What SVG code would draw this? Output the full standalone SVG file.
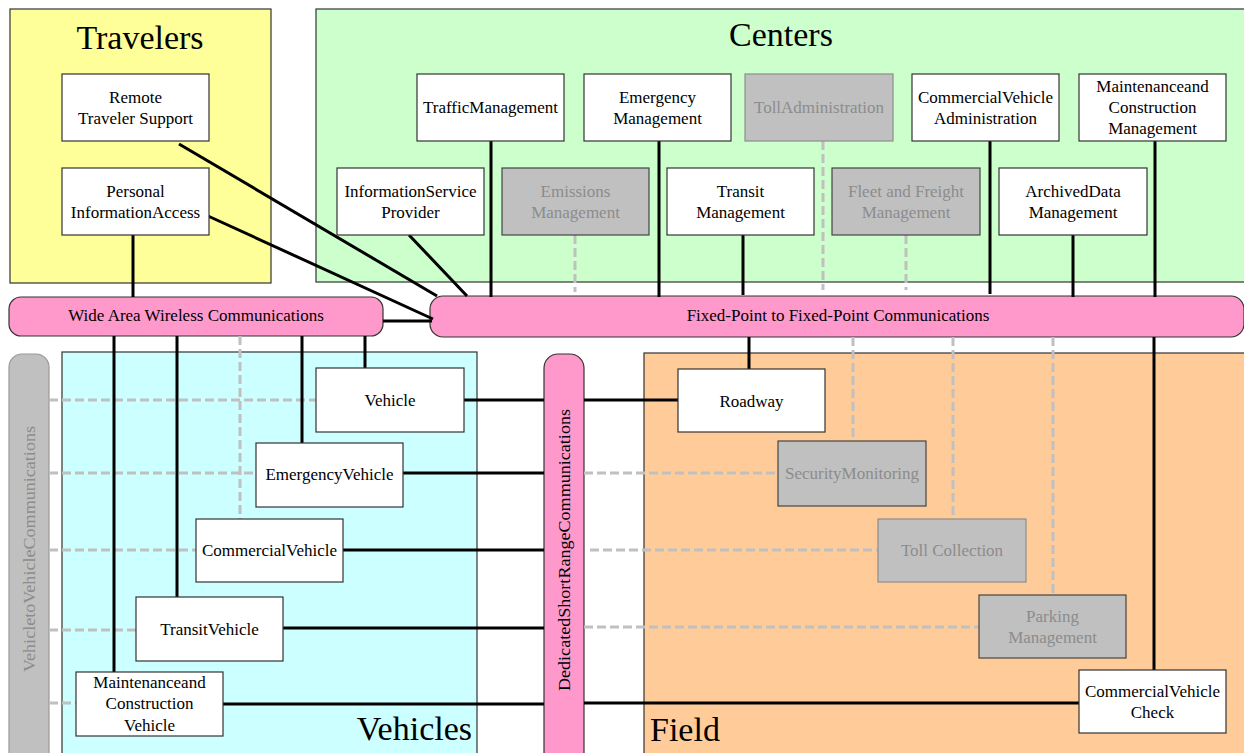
<svg xmlns="http://www.w3.org/2000/svg" width="1244" height="753" viewBox="0 0 1244 753">
<style>
text{font-family:"Liberation Serif","Times New Roman",serif;font-size:17px;fill:#000;text-anchor:middle}
.title{font-size:34px}
.gtx{fill:#8c8c8c}
.node{fill:#fff;stroke:#333;stroke-width:1.2}
.gnode{fill:#c0c0c0;stroke:#444;stroke-width:1.2}
.gnode2{fill:#c0c0c0;stroke:#8c8c8c;stroke-width:1.2}
.bar{fill:#ff99cc;stroke:#333;stroke-width:1.2}
.grp{stroke:#333;stroke-width:1.2}
.c{stroke:#000;stroke-width:3;fill:none}
.d{stroke:#c0c0c0;stroke-width:3;fill:none;stroke-dasharray:9,4}
</style>
<rect width="1244" height="753" fill="#fff"/>
<g id="groups">
<g id="travelers-area"><rect class="grp" x="10" y="9" width="261" height="274" fill="#ffff99"/><text class="title" x="140" y="49">Travelers</text></g>
<g id="centers-area"><rect class="grp" x="316" y="9" width="940" height="273" fill="#ccffcc"/><text class="title" x="781" y="46">Centers</text></g>
<g id="vehicles-area"><rect class="grp" x="62" y="352" width="415" height="410" fill="#ccffff"/><text class="title" x="472" y="740" style="text-anchor:end">Vehicles</text></g>
<g id="field-area"><rect class="grp" x="644" y="353" width="612" height="410" fill="#ffcc99"/><text class="title" x="650" y="741" style="text-anchor:start">Field</text></g>
</g>
<g id="bars">
<g id="wide-area-wireless"><rect class="bar" x="9" y="297" width="374" height="39" rx="12"/><text x="196" y="321">Wide Area Wireless Communications</text></g>
<g id="fixed-point"><rect class="bar" x="430" y="296" width="814" height="41" rx="13"/><text x="838" y="321">Fixed-Point to Fixed-Point Communications</text></g>
<g id="v2v"><rect x="9" y="354" width="40" height="420" rx="13" fill="#c0c0c0" stroke="#999" stroke-width="1.2"/><text class="gtx" transform="translate(35,549) rotate(-90)" textLength="246" lengthAdjust="spacingAndGlyphs">VehicletoVehicleCommunications</text></g>
<g id="dsrc"><rect class="bar" x="544" y="354" width="40" height="420" rx="14"/><text transform="translate(570,550) rotate(-90)" textLength="282" lengthAdjust="spacingAndGlyphs">DedicatedShortRangeCommunications</text></g>
</g>
<g id="connectors">
<line class="d" x1="575" y1="235" x2="575" y2="292"/>
<line class="d" x1="823" y1="141" x2="823" y2="290"/>
<line class="d" x1="906" y1="235" x2="906" y2="290"/>
<line class="d" x1="240" y1="336" x2="240" y2="519"/>
<line class="d" x1="853" y1="337" x2="853" y2="441"/>
<line class="d" x1="953" y1="337" x2="953" y2="519"/>
<line class="d" x1="1053" y1="337" x2="1053" y2="595"/>
<line class="d" x1="49" y1="400" x2="316" y2="400"/>
<line class="d" x1="49" y1="473" x2="256" y2="473"/>
<line class="d" x1="49" y1="550" x2="196" y2="550"/>
<line class="d" x1="49" y1="630" x2="136" y2="630"/>
<line class="d" x1="49" y1="703" x2="76" y2="703"/>
<line class="d" x1="584" y1="473" x2="778" y2="473"/>
<line class="d" x1="590" y1="550" x2="878" y2="550"/>
<line class="d" x1="584" y1="627" x2="979" y2="627"/>
<line class="c" x1="179" y1="144" x2="437" y2="296"/>
<line class="c" x1="208" y1="216" x2="433" y2="319"/>
<line class="c" x1="409" y1="235" x2="467" y2="296"/>
<line class="c" x1="133" y1="235" x2="133" y2="297"/>
<line class="c" x1="383" y1="321" x2="432" y2="321"/>
<line class="c" x1="491" y1="141" x2="491" y2="297"/>
<line class="c" x1="659" y1="141" x2="659" y2="297"/>
<line class="c" x1="743" y1="235" x2="743" y2="295"/>
<line class="c" x1="990" y1="141" x2="990" y2="294"/>
<line class="c" x1="1073" y1="235" x2="1073" y2="297"/>
<line class="c" x1="1155" y1="141" x2="1155" y2="297"/>
<line class="c" x1="114" y1="336" x2="114" y2="672"/>
<line class="c" x1="177" y1="336" x2="177" y2="597"/>
<line class="c" x1="302" y1="336" x2="302" y2="443"/>
<line class="c" x1="365" y1="336" x2="365" y2="368"/>
<line class="c" x1="749" y1="337" x2="749" y2="369"/>
<line class="c" x1="1154" y1="337" x2="1154" y2="670"/>
<line class="c" x1="464" y1="400" x2="544" y2="400"/>
<line class="c" x1="403" y1="473" x2="544" y2="473"/>
<line class="c" x1="343" y1="550" x2="544" y2="550"/>
<line class="c" x1="283" y1="628" x2="544" y2="628"/>
<line class="c" x1="223" y1="704" x2="544" y2="704"/>
<line class="c" x1="584" y1="400" x2="678" y2="400"/>
<line class="c" x1="584" y1="703" x2="1079" y2="703"/>
</g>
<g id="remote-traveler-support"><rect class="node" x="62" y="74" width="147" height="67"/><text x="135.5" y="103">Remote</text><text x="135.5" y="124">Traveler Support</text></g>
<g id="personal-information-access"><rect class="node" x="62" y="168" width="147" height="67"/><text x="135.5" y="197">Personal</text><text x="135.5" y="218">InformationAccess</text></g>
<g id="traffic-management"><rect class="node" x="417" y="74" width="147" height="67"/><text x="490.5" y="113">TrafficManagement</text></g>
<g id="emergency-management"><rect class="node" x="584" y="74" width="147" height="67"/><text x="657.5" y="103">Emergency</text><text x="657.5" y="124">Management</text></g>
<g id="toll-administration"><rect class="gnode2" x="745" y="74" width="148" height="67"/><text class="gtx" x="819" y="113">TollAdministration</text></g>
<g id="commercial-vehicle-administration"><rect class="node" x="912" y="74" width="147" height="67"/><text x="985.5" y="103">CommercialVehicle</text><text x="985.5" y="124">Administration</text></g>
<g id="maintenance-construction-management"><rect class="node" x="1079" y="74" width="147" height="67"/><text x="1152.5" y="92">Maintenanceand</text><text x="1152.5" y="113">Construction</text><text x="1152.5" y="134">Management</text></g>
<g id="information-service-provider"><rect class="node" x="337" y="168" width="147" height="67"/><text x="410.5" y="197">InformationService</text><text x="410.5" y="218">Provider</text></g>
<g id="emissions-management"><rect class="gnode" x="502" y="168" width="147" height="67"/><text class="gtx" x="575.5" y="197">Emissions</text><text class="gtx" x="575.5" y="218">Management</text></g>
<g id="transit-management"><rect class="node" x="667" y="168" width="147" height="67"/><text x="740.5" y="197">Transit</text><text x="740.5" y="218">Management</text></g>
<g id="fleet-freight-management"><rect class="gnode" x="832" y="168" width="148" height="67"/><text class="gtx" x="906" y="197">Fleet and Freight</text><text class="gtx" x="906" y="218">Management</text></g>
<g id="archived-data-management"><rect class="node" x="999" y="168" width="148" height="67"/><text x="1073" y="197">ArchivedData</text><text x="1073" y="218">Management</text></g>
<g id="vehicle"><rect class="node" x="316" y="368" width="148" height="64"/><text x="390" y="406">Vehicle</text></g>
<g id="emergency-vehicle"><rect class="node" x="256" y="443" width="147" height="64"/><text x="329.5" y="480">EmergencyVehicle</text></g>
<g id="commercial-vehicle"><rect class="node" x="196" y="519" width="147" height="63"/><text x="269.5" y="556">CommercialVehicle</text></g>
<g id="transit-vehicle"><rect class="node" x="136" y="597" width="147" height="64"/><text x="209.5" y="635">TransitVehicle</text></g>
<g id="maintenance-construction-vehicle"><rect class="node" x="76" y="672" width="147" height="64"/><text x="149.5" y="688">Maintenanceand</text><text x="149.5" y="709">Construction</text><text x="149.5" y="731">Vehicle</text></g>
<g id="roadway"><rect class="node" x="678" y="369" width="147" height="63"/><text x="751.5" y="407">Roadway</text></g>
<g id="security-monitoring"><rect class="gnode" x="778" y="441" width="148" height="65"/><text class="gtx" x="852" y="479">SecurityMonitoring</text></g>
<g id="toll-collection"><rect class="gnode2" x="878" y="519" width="148" height="63"/><text class="gtx" x="952" y="556">Toll Collection</text></g>
<g id="parking-management"><rect class="gnode" x="979" y="595" width="147" height="63"/><text class="gtx" x="1052.5" y="622">Parking</text><text class="gtx" x="1052.5" y="643">Management</text></g>
<g id="commercial-vehicle-check"><rect class="node" x="1079" y="670" width="147" height="63"/><text x="1152.5" y="697">CommercialVehicle</text><text x="1152.5" y="718">Check</text></g>
</svg>
